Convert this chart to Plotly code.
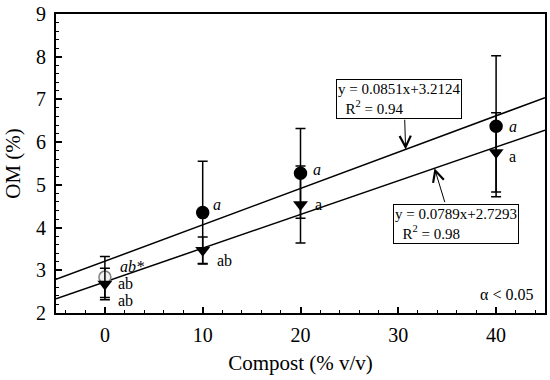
import plotly.graph_objects as go

# ---- data ----
compost = [0, 10, 20, 40]
om_circle = [2.84, 4.35, 5.27, 6.37]
om_circle_err = [0.48, 1.20, 1.05, 1.65]
om_tri = [2.68, 3.47, 4.54, 5.76]
om_tri_err = [0.37, 0.31, 0.90, 0.93]

fit_slopes = [0.0851, 0.0789]
fit_intercepts = [3.2124, 2.7293]
fit_r2 = [0.94, 0.98]
x_range = [-5, 45]
y_ticks = [2, 3, 4, 5, 6, 7, 8, 9]

circle_labels = ["ab*", "a", "a", "a"]
tri_labels = ["ab", "ab", "a", "a"]
extra_label = "ab"
alpha_text = "α < 0.05"

FONT = "Liberation Serif, Times New Roman, serif"

fig = go.Figure()

# regression lines
for m, b in zip(fit_slopes, fit_intercepts):
    fig.add_trace(go.Scatter(
        x=x_range, y=[m * x_range[0] + b, m * x_range[1] + b],
        mode="lines", line=dict(color="black", width=1.5),
        hoverinfo="skip", showlegend=False))

# circle series
fig.add_trace(go.Scatter(
    x=compost, y=om_circle, mode="markers",
    marker=dict(symbol="circle", size=12,
                color=["#f0f0f0", "black", "black", "black"],
                line=dict(color=["#808080", "black", "black", "black"], width=1.5)),
    error_y=dict(type="data", array=om_circle_err, visible=True,
                 color="black", thickness=1.5, width=5),
    showlegend=False))

# triangle series
fig.add_trace(go.Scatter(
    x=compost, y=om_tri, mode="markers",
    marker=dict(symbol="triangle-down", size=13, color="black",
                line=dict(color="black", width=0)),
    error_y=dict(type="data", array=om_tri_err, visible=True,
                 color="black", thickness=1.5, width=5),
    showlegend=False))

annotations = []
# letter labels next to circles (italic)
circle_shift = [(13, 11), (8, 8), (10, 4), (11, 0)]
for x, y, t, (dx, dy) in zip(compost, om_circle, circle_labels, circle_shift):
    annotations.append(dict(x=x, y=y, xref="x", yref="y", text=f"<i>{t}</i>",
                            showarrow=False, xanchor="left", yanchor="middle",
                            xshift=dx, yshift=dy,
                            font=dict(family=FONT, size=16, color="black")))
# letter labels next to triangles (regular)
tri_shift = [(11, 0), (12, -10), (12, 0), (11, -4)]
for x, y, t, (dx, dy) in zip(compost, om_tri, tri_labels, tri_shift):
    annotations.append(dict(x=x, y=y, xref="x", yref="y", text=t,
                            showarrow=False, xanchor="left", yanchor="middle",
                            xshift=dx, yshift=dy,
                            font=dict(family=FONT, size=16, color="black")))
annotations.append(dict(x=compost[0], y=om_tri[0], xref="x", yref="y", text=extra_label,
                        showarrow=False, xanchor="left", yanchor="middle",
                        xshift=11, yshift=-17,
                        font=dict(family=FONT, size=16, color="black")))

# equation boxes
nb = "\u00a0"
box_pos = [(30.1, 7.0), (35.95, 4.09)]
for (bx, by), m, b, r2 in zip(box_pos, fit_slopes, fit_intercepts, fit_r2):
    annotations.append(dict(
        x=bx, y=by, xref="x", yref="y",
        text=f"y = {m:.4f}x+{b:.4f}<br>{nb}{nb}R<sup>2</sup> = {r2:.2f}",
        showarrow=False, align="left", xanchor="center", yanchor="middle",
        bordercolor="black", borderwidth=1, borderpad=1, bgcolor="white",
        font=dict(family=FONT, size=15, color="black")))

# arrows from boxes to lines
arrow_specs = [((30.65, 6.56), (30.75, 0)), ((34.8, 4.56), (33.7, 1))]
for (tx, ty), (hx, idx) in arrow_specs:
    hy = fit_slopes[idx] * hx + fit_intercepts[idx]
    annotations.append(dict(
        x=hx, y=hy, ax=tx, ay=ty, xref="x", yref="y", axref="x", ayref="y",
        text="", showarrow=True, arrowhead=5, arrowsize=2.2, arrowwidth=1,
        arrowcolor="black", standoff=0, startstandoff=0))

annotations.append(dict(x=0.98, y=0.062, xref="paper", yref="paper", text=alpha_text,
                        showarrow=False, xanchor="right", yanchor="middle",
                        font=dict(family=FONT, size=16, color="black")))

fig.update_layout(
    width=550, height=380,
    margin=dict(l=56, r=3, t=8, b=67),
    paper_bgcolor="white", plot_bgcolor="white",
    font=dict(family=FONT, color="black"),
    annotations=annotations,
    xaxis=dict(range=x_range, tickvals=[0, 10, 20, 30, 40],
               ticks="inside", ticklen=6, tickwidth=1.5, tickcolor="black",
               minor=dict(dtick=2, ticks="inside", ticklen=3, tickwidth=1, tickcolor="black"),
               showline=True, linewidth=2, linecolor="black", mirror=True,
               showgrid=False, zeroline=False,
               tickfont=dict(family=FONT, size=20),
               ticklabelstandoff=3, ticklabeloverflow="allow",
               title=dict(text="Compost (% v/v)", font=dict(family=FONT, size=21), standoff=10)),
    yaxis=dict(range=[2, 9], tickvals=y_ticks,
               ticks="inside", ticklen=6, tickwidth=1.5, tickcolor="black",
               minor=dict(dtick=0.2, ticks="inside", ticklen=3, tickwidth=1, tickcolor="black"),
               showline=True, linewidth=2, linecolor="black", mirror=True,
               showgrid=False, zeroline=False,
               tickfont=dict(family=FONT, size=20),
               ticklabelstandoff=4, ticklabeloverflow="allow",
               title=dict(text="OM (%)", font=dict(family=FONT, size=21), standoff=10)),
)

fig.write_html("out.html", config={"displayModeBar": False},
               post_script="document.body.style.margin='0';")
